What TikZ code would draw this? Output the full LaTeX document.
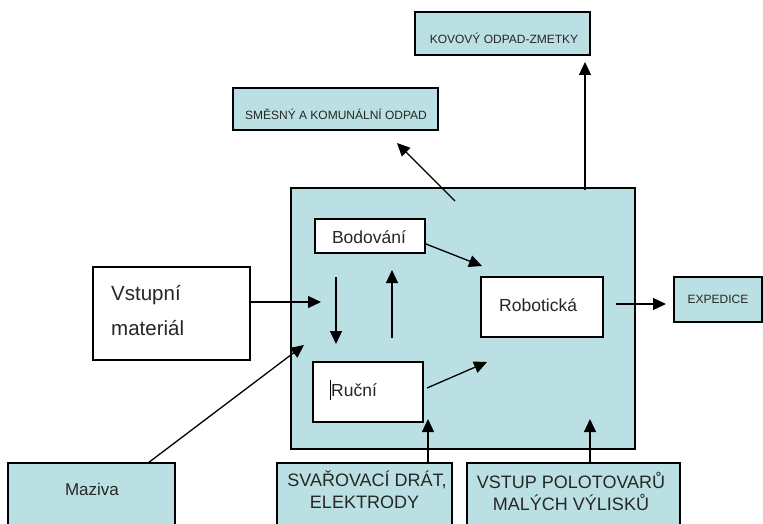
\documentclass[tikz,border=0pt]{standalone}
\usepackage{fontspec}
\setmainfont{Liberation Sans}
\usetikzlibrary{arrows.meta}
\definecolor{boxteal}{RGB}{187,224,227}
\tikzset{
  box/.style={draw=black, line width=1.3pt, inner sep=0pt, rectangle},
  tealbox/.style={box, fill=boxteal},
  whitebox/.style={box, fill=white},
  arr/.style={line width=1.3pt, -{Triangle[length=13pt,width=12pt]}},
  lbl/.style={inner sep=0pt, text=black!85},
  big/.style={lbl, font=\fontsize{17.5}{20}\selectfont},
  small/.style={lbl, font=\fontsize{12}{14}\selectfont},
  caps/.style={lbl, font=\fontsize{18}{22}\selectfont}
}
\begin{document}
\begin{tikzpicture}[x=1pt,y=-1pt]
\useasboundingbox (0,0) rectangle (763,524);
\clip (0,0) rectangle (763,524);
\fill[white] (0,0) rectangle (763,524);
% main box
\node[tealbox, minimum width=344pt, minimum height=261pt] (main) at (463,318.5) {};
% inner boxes
\node[whitebox, minimum width=110pt, minimum height=34pt] (bod) at (370,236) {};
\node[big] at (369,237) {Bodování};
\node[whitebox, minimum width=122pt, minimum height=60pt] (rob) at (542,307) {};
\node[big, anchor=west] at (499,305) {Robotická};
\node[whitebox, minimum width=110pt, minimum height=60pt] (ruc) at (368,392) {};
\node[big, anchor=west] at (331,390) {Ruční};
\draw[line width=0.7pt] (330,380) -- (330,400);
% left input
\node[whitebox, minimum width=157pt, minimum height=93pt] (vst) at (171.5,313.5) {};
\node[lbl, font=\fontsize{20.5}{24}\selectfont, anchor=west] at (111,295) {Vstupní};
\node[lbl, font=\fontsize{20.5}{24}\selectfont, anchor=west] at (111,328) {materiál};
% bottom boxes
\node[tealbox, minimum width=167pt, minimum height=68pt] (maz) at (91.5,497) {};
\node[lbl, font=\fontsize{17}{20}\selectfont] at (92,489) {Maziva};
\node[tealbox, minimum width=175pt, minimum height=68pt] (sva) at (364.5,497) {};
\node[caps] at (367,480) {SVAŘOVACÍ DRÁT,};
\node[caps] at (364.5,502) {ELEKTRODY};
\node[tealbox, minimum width=213pt, minimum height=68pt] (pol) at (573.5,497) {};
\node[caps] at (571,480) {VSTUP POLOTOVARŮ};
\node[caps] at (571,502) {MALÝCH VÝLISKŮ};
% right and top boxes
\node[tealbox, minimum width=88pt, minimum height=45pt] (exp) at (718,299.5) {};
\node[small] at (exp.center) {EXPEDICE};
\node[tealbox, minimum width=175pt, minimum height=43pt] (kov) at (502.5,33.5) {};
\node[small] at (504,38) {KOVOVÝ ODPAD-ZMETKY};
\node[tealbox, minimum width=205pt, minimum height=42pt] (smes) at (335.5,109) {};
\node[small] at (336,114) {SMĚSNÝ A KOMUNÁLNÍ ODPAD};
% coordinates
\coordinate (smesS) at (455,201);
\coordinate (smesE) at (397,143);
\coordinate (kovS) at (585,190);
\coordinate (kovE) at (585,62);
\coordinate (vstE) at (321,302);
\coordinate (mazS) at (148,463);
\coordinate (mazE) at (304,345);
\coordinate (bodS) at (426,244);
\coordinate (bodE) at (482,266);
\coordinate (dnS) at (336,277);
\coordinate (dnE) at (336,344);
\coordinate (upS) at (392,338);
\coordinate (upE) at (392,270);
\coordinate (rucS) at (427,388);
\coordinate (rucE) at (487,362);
\coordinate (robS) at (616,304);
\coordinate (expE) at (666,304);
\coordinate (svaE) at (428,419);
\coordinate (polE) at (590,419);
% arrows
\draw[arr] (smesS) -- (smesE);
\draw[arr] (kovS) -- (kovE);
\draw[arr] (vst.east |- vstE) -- (vstE);
\draw[arr] (mazS) -- (mazE);
\draw[arr] (bodS) -- (bodE);
\draw[arr] (dnS) -- (dnE);
\draw[arr] (upS) -- (upE);
\draw[arr] (rucS) -- (rucE);
\draw[arr] (robS) -- (expE);
\draw[arr] (sva.north -| svaE) -- (svaE);
\draw[arr] (pol.north -| polE) -- (polE);
\end{tikzpicture}
\end{document}
